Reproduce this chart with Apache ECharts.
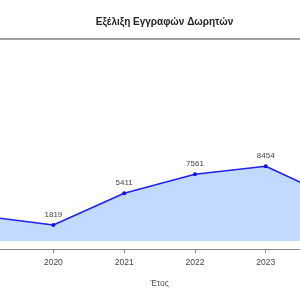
<!DOCTYPE html>
<html>
<head>
<meta charset="utf-8">
<script src="https://cdn.jsdelivr.net/npm/echarts@6/dist/echarts.min.js"></script>
<style>
html,body{margin:0;padding:0;background:#fff;}
#c{width:300px;height:298px;}
</style>
</head>
<body>
<div id="c"></div>
<script>
const titleText = 'Εξέλιξη Εγγραφών Δωρητών';
const xName = 'Έτος';
const years = ['2019', '2020', '2021', '2022', '2023', '2024'];
const donors = [2830, 1819, 5411, 7561, 8454, 4730];

const chart = echarts.init(document.getElementById('c'), null, {renderer: 'canvas'});
const font = '"Liberation Sans", Arial, sans-serif';
chart.setOption({
  animation: false,
  backgroundColor: '#ffffff',
  title: {
    text: titleText,
    left: 159.5,
    textAlign: 'center',
    top: 12,
    textStyle: {fontFamily: font, fontSize: 10, fontWeight: 'bold', color: '#222'}
  },
  grid: {left: -17.4, right: -36.5, top: 39, bottom: 49, containLabel: false, outerBoundsMode: 'none'},
  xAxis: [{
    type: 'category',
    data: years,
    boundaryGap: false,
    position: 'bottom',
    name: xName,
    nameLocation: 'middle',
    nameGap: 30,
    nameTextStyle: {fontFamily: font, fontSize: 8.5, color: '#555'},
    axisLine: {show: true, onZero: false, lineStyle: {color: '#888', width: 1}},
    axisTick: {show: true, length: 4, lineStyle: {color: '#888'}},
    axisLabel: {fontFamily: font, fontSize: 8.5, color: '#444', margin: 9},
    splitLine: {show: false}
  }, {
    type: 'category',
    data: years,
    boundaryGap: false,
    position: 'top',
    axisLine: {show: true, onZero: false, lineStyle: {color: '#a0a0a0', width: 2}},
    axisTick: {show: false},
    axisLabel: {show: false},
    splitLine: {show: false}
  }],
  yAxis: {
    type: 'value',
    min: -900,
    max: 22850,
    show: false,
    splitLine: {show: false}
  },
  series: [{
    type: 'line',
    data: donors,
    xAxisIndex: 0,
    symbol: 'circle',
    symbolSize: 4,
    showAllSymbol: true,
    lineStyle: {color: '#2020ff', width: 1.6},
    itemStyle: {color: '#1010ee'},
    areaStyle: {color: '#c2daff', opacity: 1, origin: 'auto'},
    label: {show: true, position: 'top', distance: 4, fontFamily: font, fontSize: 8, color: '#444'}
  }]
});
</script>
</body>
</html>
